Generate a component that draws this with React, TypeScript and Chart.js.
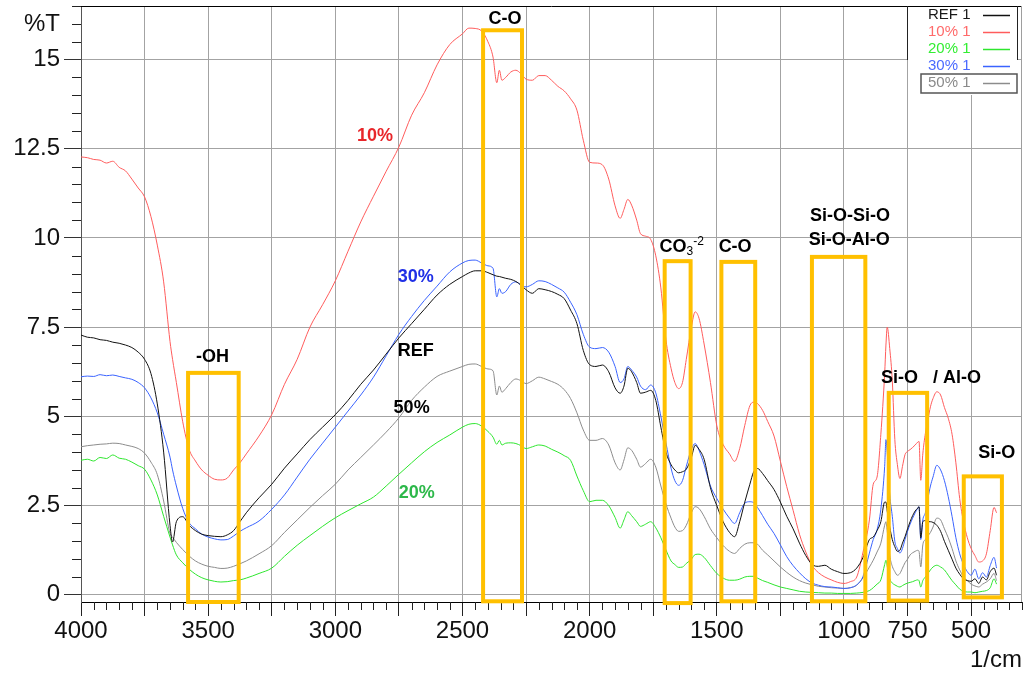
import React, { useEffect, useRef } from "react";
import { Chart, registerables } from "chart.js";

Chart.register(...registerables);

// ---------- data ----------
const WAVENUMBERS = [
  4000, 3975, 3950, 3925, 3900, 3875, 3850, 3825, 3800, 3775, 3750, 3725, 3700, 3675, 3650, 3640, 3625, 3600, 3575, 3550, 3525, 3500, 3475, 3450, 3425, 3400, 3375, 3350, 3300,
  3250, 3200, 3150, 3100, 3050, 3000, 2950, 2900, 2850, 2800, 2750, 2700, 2650, 2600, 2550, 2500, 2475, 2450, 2425, 2400,
  2380, 2365, 2355, 2345, 2330, 2310, 2290, 2270, 2250, 2225, 2200, 2175, 2150, 2125, 2100, 2075, 2050, 2025, 2000,
  1975, 1950, 1925, 1900, 1880, 1865, 1850, 1835, 1815, 1800, 1780, 1760, 1740, 1720, 1700,
  1680, 1665, 1650, 1635, 1620, 1600, 1585, 1570, 1550, 1525, 1500, 1475, 1450, 1430, 1410, 1390, 1370, 1355, 1340, 1320, 1300,
  1275, 1250, 1225, 1200, 1175, 1150, 1125, 1100, 1075, 1050, 1025, 1000, 975, 950, 925, 900,
  885, 870, 855, 840, 835, 830, 820, 810, 800, 790, 780, 770, 760, 750, 740, 730, 720, 710, 705, 698,
  690, 680, 670, 660, 650, 635, 620, 605, 590, 575, 560, 545, 530, 515, 500, 485, 470, 455, 440, 425, 410, 400,
];

const REF_1 = [
  7.28, 7.22, 7.2, 7.15, 7.13, 7.08, 7.05, 7.0, 6.93, 6.8, 6.6, 6.2, 5.35, 4.0, 1.95, 1.48, 2.05, 2.19, 1.95, 1.8, 1.7, 1.66, 1.64, 1.63, 1.68, 1.8, 2.05, 2.3, 2.72,
  3.1, 3.55, 3.95, 4.35, 4.7, 5.05, 5.45, 5.9, 6.3, 6.75, 7.2, 7.6, 8.0, 8.4, 8.7, 8.92, 9.02, 9.08, 9.08, 9.03,
  8.97, 8.93, 8.92, 8.9, 8.87, 8.84, 8.78, 8.68, 8.55, 8.45, 8.58, 8.55, 8.5, 8.42, 8.3, 7.98, 7.6, 6.85, 6.45,
  6.4, 6.44, 6.25, 5.8, 5.65, 5.85, 6.35, 6.25, 5.95, 5.65, 5.68, 5.73, 5.45, 4.7, 4.0,
  3.65, 3.5, 3.42, 3.45, 3.52, 3.85, 4.19, 4.08, 3.8, 3.0, 2.5, 2.05, 1.75, 1.63, 2.05, 2.6, 3.1, 3.45, 3.54, 3.4, 3.2,
  2.95, 2.6, 2.2, 1.85, 1.45, 1.1, 0.85, 0.8, 0.83, 0.72, 0.65, 0.6, 0.62, 0.75, 1.05, 1.55,
  1.62, 1.8, 2.05, 2.6, 2.6, 2.35, 1.9, 1.55, 1.35, 1.22, 1.25, 1.45, 1.63, 1.85, 2.05, 2.22, 2.35, 2.43, 2.47, 1.6,
  2.05, 2.08, 2.05, 2.05, 2.03, 1.95, 1.78, 1.5, 1.25, 1.0, 0.75, 0.58, 0.45, 0.4, 0.38, 0.45, 0.32, 0.5, 0.42, 0.65, 0.75, 0.55,
];

const P10_1 = [
  12.27, 12.25, 12.2, 12.18, 12.1, 12.15, 11.98, 11.88, 11.65, 11.4, 11.15, 10.6, 9.8, 8.77, 7.1, 6.6, 5.95, 4.85, 4.08, 3.75, 3.5, 3.35, 3.24, 3.22, 3.27, 3.5, 3.7, 3.95, 4.45,
  5.05, 5.9, 6.6, 7.5, 8.13, 8.8, 9.63, 10.45, 11.17, 11.87, 12.55, 13.44, 14.07, 14.85, 15.42, 15.72, 15.88, 15.87, 15.8, 15.5,
  15.07, 14.35, 14.7, 14.42, 14.5, 14.65, 14.7, 14.6, 14.45, 14.42, 14.55, 14.55, 14.42, 14.25, 14.12, 13.9, 13.58, 12.74, 12.12,
  12.1, 12.05, 11.65, 10.9, 10.55, 10.8, 11.08, 10.92, 10.5, 10.12, 10.05, 9.96, 9.5, 8.6, 7.15,
  6.35, 5.95, 5.78, 5.95, 6.6, 7.5, 7.93, 7.75, 7.03, 5.95, 4.74, 4.21, 3.95, 3.74, 4.1, 4.75, 5.3, 5.4, 5.36, 5.17, 4.86,
  4.45, 3.74, 3.03, 2.37, 1.7, 1.2, 0.82, 0.62, 0.5, 0.42, 0.35, 0.32, 0.37, 0.5, 1.2, 2.1,
  3.1, 3.3, 4.5, 6.2, 7.0, 7.5, 6.9, 6.0, 4.35, 3.65, 3.26, 3.6, 3.93, 4.02, 4.07, 4.13, 4.2, 4.28, 4.3, 3.21,
  3.95, 4.52, 4.9, 5.27, 5.5, 5.69, 5.6, 5.25, 4.95, 4.5, 3.7, 2.7, 2.05, 1.6, 1.3, 1.1, 0.92, 0.95, 1.15, 1.8, 2.45, 2.3,
];

const P20_1 = [
  3.77, 3.8, 3.75, 3.85, 3.82, 3.92, 3.83, 3.8, 3.72, 3.62, 3.52, 3.22, 2.8, 2.2, 1.62, 1.4, 1.12, 0.9, 0.72, 0.58, 0.48, 0.42, 0.38, 0.36, 0.37, 0.4, 0.42, 0.47, 0.6,
  0.75, 1.08, 1.39, 1.66, 1.92, 2.16, 2.36, 2.55, 2.74, 3.05, 3.38, 3.7, 4.01, 4.27, 4.48, 4.7, 4.78, 4.8, 4.73, 4.58,
  4.42, 4.22, 4.33, 4.2, 4.25, 4.26, 4.24, 4.18, 4.1, 4.15, 4.2, 4.17, 4.08, 4.0, 3.9, 3.77, 3.33, 2.92, 2.61,
  2.65, 2.65, 2.5, 2.17, 1.87, 2.1, 2.33, 2.22, 2.05, 1.92, 1.98, 2.05, 1.88, 1.6, 1.26,
  0.95, 0.85, 0.77, 0.78, 0.88, 1.0, 1.13, 1.14, 1.05, 0.82, 0.6, 0.47, 0.41, 0.41, 0.44, 0.5, 0.52, 0.52, 0.47, 0.4, 0.35,
  0.28, 0.22, 0.18, 0.14, 0.1, 0.08, 0.07, 0.06, 0.05, 0.05, 0.04, 0.04, 0.04, 0.05, 0.07, 0.12,
  0.2, 0.3, 0.42, 0.85, 0.97, 0.8, 0.45, 0.33, 0.28, 0.24, 0.22, 0.26, 0.3, 0.33, 0.35, 0.37, 0.4, 0.42, 0.4, 0.22,
  0.4, 0.5, 0.6, 0.7, 0.78, 0.83, 0.78, 0.7, 0.55, 0.4, 0.28, 0.16, 0.1, 0.08, 0.08, 0.06, 0.08, 0.1, 0.12, 0.2, 0.45, 0.3,
];

const P30_1 = [
  6.11, 6.13, 6.12, 6.17, 6.14, 6.16, 6.12, 6.08, 6.04, 5.95, 5.8, 5.52, 5.1, 4.5, 3.86, 3.5, 3.05, 2.42, 2.02, 1.85, 1.7, 1.62, 1.57, 1.54, 1.55, 1.65, 1.78, 1.88, 2.07,
  2.4, 2.8, 3.3, 3.8, 4.25, 4.7, 5.15, 5.6, 6.1, 6.7, 7.3, 7.8, 8.25, 8.65, 9.05, 9.3, 9.37, 9.38, 9.3, 9.22,
  9.15, 8.35, 8.58, 8.45, 8.5, 8.7, 8.77, 8.68, 8.63, 8.7, 8.8, 8.78, 8.7, 8.6, 8.48, 8.2, 7.85, 7.3, 6.94,
  6.9, 6.93, 6.8, 6.4, 5.95, 6.05, 6.4, 6.3, 6.1, 5.85, 5.75, 5.88, 5.66, 5.0, 4.26,
  3.55, 3.2, 3.07, 3.2, 3.6, 4.08, 4.24, 4.05, 3.65, 3.05, 2.7, 2.4, 2.15, 2.0, 2.3, 2.57, 2.61, 2.58, 2.45, 2.22, 1.98,
  1.72, 1.4, 1.07, 0.82, 0.62, 0.45, 0.33, 0.27, 0.23, 0.22, 0.2, 0.18, 0.2, 0.28, 0.52, 1.17,
  1.55, 1.82, 2.4, 3.6, 4.35, 4.0, 2.8, 2.2, 1.5, 1.3, 1.17, 1.3, 1.55, 1.78, 1.98, 2.15, 2.3, 2.43, 2.47, 1.55,
  2.1, 2.3, 2.7, 3.05, 3.3, 3.63, 3.5, 3.2, 2.75, 2.2, 1.6, 1.15, 0.85, 0.65, 0.55, 0.72, 0.45, 0.62, 0.5, 0.82, 1.05, 0.75,
];

const P50_1 = [
  4.15, 4.18, 4.2, 4.22, 4.23, 4.25, 4.24, 4.2, 4.16, 4.1, 3.97, 3.72, 3.37, 2.63, 1.72, 1.62, 1.47, 1.27, 1.09, 0.95, 0.86, 0.8, 0.77, 0.74, 0.75, 0.8, 0.87, 0.95, 1.15,
  1.38, 1.75, 2.1, 2.45, 2.78, 3.1, 3.5, 3.85, 4.2, 4.56, 4.96, 5.45, 5.82, 6.12, 6.27, 6.4, 6.46, 6.47, 6.4, 6.33,
  6.28, 5.6, 5.85, 5.68, 5.78, 5.95, 6.05, 6.0, 5.92, 6.0, 6.1, 6.05, 5.98, 5.9, 5.75, 5.5, 5.1, 4.62, 4.33,
  4.33, 4.38, 4.2, 3.7, 3.5, 3.78, 4.12, 4.05, 3.8, 3.58, 3.68, 3.8, 3.58, 3.05, 2.55,
  2.15, 1.9, 1.78, 1.8, 1.95, 2.3, 2.47, 2.42, 2.2, 1.85, 1.6, 1.38, 1.22, 1.16, 1.3, 1.42, 1.46, 1.46, 1.42, 1.25, 1.12,
  0.95, 0.78, 0.63, 0.5, 0.4, 0.33, 0.28, 0.24, 0.22, 0.2, 0.19, 0.18, 0.2, 0.27, 0.48, 0.78,
  0.97, 1.2, 1.45, 1.95, 2.05, 1.8, 1.1, 0.8, 0.65, 0.55, 0.6, 0.75, 0.9, 1.0, 1.12, 1.18, 1.22, 1.25, 1.22, 0.78,
  1.4, 1.55, 1.65, 1.75, 1.9, 2.15, 2.1, 1.85, 1.6, 1.3, 0.95, 0.7, 0.5, 0.4, 0.3, 0.25, 0.22, 0.3, 0.36, 0.45, 0.6, 0.4,
];

const X_MIN = 300;
const X_MAX = 4000;
const Y_MIN = -0.2;
const Y_MAX = 16.5;
const X_GRID_TICKS = [4000, 3750, 3500, 3250, 3000, 2750, 2500, 2250, 2000, 1750, 1500, 1250, 1000, 750, 500];
const X_TICK_LABELS = [4000, 3500, 3000, 2500, 2000, 1500, 1000, 750, 500];
const Y_TICKS = [0, 2.5, 5, 7.5, 10, 12.5, 15];

// band annotations (wavenumber range, %T range)
const BAND_NAMES = ["-OH", "C-O", "CO3", "C-O", "Si-O-Si", "Si-O/Al-O", "Si-O"];
const BAND_FROM = [3579, 2419, 1705, 1482, 1126, 824, 529];
const BAND_TO = [3380, 2266, 1603, 1349, 916, 673, 379];
const BAND_TOP = [6.22, 15.82, 9.35, 9.33, 9.47, 5.66, 3.32];
const BAND_BOTTOM = [-0.2, -0.18, -0.23, -0.18, -0.18, -0.16, -0.07];

// text annotations
const NOTE_TEXT = ["-OH", "C-O", "10%", "30%", "REF", "50%", "20%", "C-O", "Si-O-Si-O", "Si-O-Al-O", "Si-O   / Al-O", "Si-O"];
const NOTE_X = [3483, 2333, 2844, 2684, 2684, 2700, 2680, 1428, 976, 979, 658, 399];
const NOTE_Y = [6.66, 16.13, 12.86, 8.9, 6.84, 5.23, 2.85, 9.76, 10.62, 9.94, 6.07, 3.98];
const NOTE_COLOR = ["#000", "#000", "#e8262a", "#1f2fe6", "#000", "#000", "#2db84a", "#000", "#000", "#000", "#000", "#000"];
const CO3_X = 1638;
const CO3_Y = 9.76;

const SERIES_LABELS = ["REF 1", "10% 1", "20% 1", "30% 1", "50% 1"];
const SERIES_VALUES = [REF_1, P10_1, P20_1, P30_1, P50_1];
const SERIES_COLORS = ["#111111", "#ff5c5c", "#2ee62e", "#3a63ff", "#8c8c8c"];
const LEGEND_TEXT_COLORS = ["#1a1a1a", "#ff6a6a", "#33ee33", "#4a6aff", "#8a8a8a"];

const FONT = '"Liberation Sans", Arial, Helvetica, sans-serif';

const overlayPlugin = {
  id: "overlay",
  afterDraw(chart: any) {
    const { ctx, chartArea: a, scales } = chart;
    const xs = scales.x;
    const ys = scales.y;
    ctx.save();

    // frame (top and right)
    ctx.lineWidth = 1;
    ctx.strokeStyle = "#000";
    ctx.beginPath();
    ctx.moveTo(a.left, a.top + 0.5);
    ctx.lineTo(a.right, a.top + 0.5);
    ctx.stroke();
    ctx.strokeStyle = "#9e9e9e";
    ctx.beginPath();
    ctx.moveTo(a.right - 0.5, a.top);
    ctx.lineTo(a.right - 0.5, a.bottom);
    ctx.stroke();

    // minor ticks
    ctx.strokeStyle = "#222";
    ctx.beginPath();
    for (let v = X_MIN; v <= X_MAX; v += 50) {
      if (v % 250 === 0) continue;
      const px = Math.round(xs.getPixelForValue(v)) + 0.5;
      ctx.moveTo(px, a.bottom);
      ctx.lineTo(px, a.bottom + 8);
    }
    for (let i = 1; i * 0.5 <= Y_MAX; i++) {
      const v = i * 0.5;
      if (v % 2.5 === 0) continue;
      const py = Math.round(ys.getPixelForValue(v)) + 0.5;
      ctx.moveTo(a.left - 9, py);
      ctx.lineTo(a.left, py);
    }
    ctx.stroke();

    // bands
    ctx.strokeStyle = "#ffc000";
    ctx.lineWidth = 4;
    for (let i = 0; i < BAND_NAMES.length; i++) {
      const x1 = xs.getPixelForValue(BAND_FROM[i]);
      const x2 = xs.getPixelForValue(BAND_TO[i]);
      const y1 = ys.getPixelForValue(BAND_TOP[i]);
      const y2 = ys.getPixelForValue(BAND_BOTTOM[i]);
      ctx.strokeRect(Math.min(x1, x2), y1, Math.abs(x2 - x1), y2 - y1);
    }

    // notes
    ctx.font = `bold 18px ${FONT}`;
    ctx.textAlign = "center";
    ctx.textBaseline = "middle";
    for (let i = 0; i < NOTE_TEXT.length; i++) {
      ctx.fillStyle = NOTE_COLOR[i];
      ctx.fillText(NOTE_TEXT[i], xs.getPixelForValue(NOTE_X[i]), ys.getPixelForValue(NOTE_Y[i]));
    }
    // CO3^-2 with sub/superscript
    {
      const cx = xs.getPixelForValue(CO3_X);
      const cy = ys.getPixelForValue(CO3_Y);
      ctx.font = `bold 18px ${FONT}`;
      const w1 = ctx.measureText("CO").width;
      ctx.font = `12px ${FONT}`;
      const w2 = ctx.measureText("3").width;
      const w3 = ctx.measureText("-2").width;
      let x0 = cx - (w1 + w2 + w3) / 2;
      ctx.textAlign = "left";
      ctx.fillStyle = "#000";
      ctx.font = `bold 18px ${FONT}`;
      ctx.fillText("CO", x0, cy);
      x0 += w1;
      ctx.font = `12px ${FONT}`;
      ctx.fillText("3", x0, cy + 5);
      x0 += w2;
      ctx.fillText("-2", x0, cy - 5);
    }

    // legend
    const lLeft = a.right - 115;
    const lRight = a.right - 5;
    const lTop = a.top;
    ctx.fillStyle = "#fff";
    ctx.fillRect(lLeft + 1, lTop + 1, lRight - lLeft - 1, 88);
    ctx.lineWidth = 1;
    ctx.strokeStyle = "#222";
    ctx.beginPath();
    ctx.moveTo(lLeft + 0.5, lTop);
    ctx.lineTo(lLeft + 0.5, lTop + 54);
    ctx.moveTo(lRight + 0.5, lTop);
    ctx.lineTo(lRight + 0.5, lTop + 54);
    ctx.stroke();
    ctx.font = `15px ${FONT}`;
    ctx.textAlign = "left";
    ctx.textBaseline = "middle";
    for (let i = 0; i < SERIES_LABELS.length; i++) {
      const yy = lTop + 9 + 17 * i;
      ctx.fillStyle = LEGEND_TEXT_COLORS[i];
      ctx.fillText(SERIES_LABELS[i], lLeft + 21, yy);
      ctx.strokeStyle = SERIES_COLORS[i];
      ctx.lineWidth = 1.5;
      ctx.beginPath();
      ctx.moveTo(lLeft + 76, Math.round(yy) + 0.5);
      ctx.lineTo(lLeft + 103, Math.round(yy) + 0.5);
      ctx.stroke();
    }
    ctx.strokeStyle = "#555";
    ctx.lineWidth = 1.5;
    ctx.strokeRect(lLeft + 14, lTop + 68, lRight - lLeft - 14, 19);

    // axis titles
    ctx.fillStyle = "#111";
    ctx.font = `24px ${FONT}`;
    ctx.textAlign = "center";
    ctx.fillText("%T", 42, 24);
    ctx.textAlign = "right";
    ctx.fillText("1/cm", a.right, 660);

    ctx.restore();
  },
};

export default function App() {
  const canvasRef = useRef<HTMLCanvasElement | null>(null);

  useEffect(() => {
    if (!canvasRef.current) return;
    const datasets = SERIES_LABELS.map((label, i) => ({
      label,
      data: WAVENUMBERS.map((w, j) => ({ x: w, y: SERIES_VALUES[i][j] })),
      borderColor: SERIES_COLORS[i],
      backgroundColor: SERIES_COLORS[i],
      borderWidth: 1,
      pointRadius: 0,
      fill: false,
      cubicInterpolationMode: "monotone" as const,
    }));

    const chart = new Chart(canvasRef.current, {
      type: "line",
      data: { datasets },
      plugins: [overlayPlugin],
      options: {
        animation: false,
        responsive: true,
        maintainAspectRatio: false,
        layout: { padding: { left: 0, top: 6, right: 3, bottom: 0 } },
        plugins: { legend: { display: false }, tooltip: { enabled: false } },
        scales: {
          x: {
            type: "linear",
            reverse: true,
            min: X_MIN,
            max: X_MAX,
            afterBuildTicks: (s: any) => {
              s.ticks = X_GRID_TICKS.map((v) => ({ value: v }));
            },
            afterFit: (s: any) => {
              s.height = 71;
              s.paddingLeft = 0;
              s.paddingRight = 0;
            },
            ticks: {
              autoSkip: false,
              maxRotation: 0,
              minRotation: 0,
              padding: 1,
              color: "#111",
              font: { family: FONT, size: 24 },
              callback: (v: any) => (X_TICK_LABELS.includes(Number(v)) ? String(v) : ""),
            },
            grid: { color: "#a3a3a3", tickColor: "#222", tickLength: 14, lineWidth: 1 },
            border: { color: "#000", width: 1 },
          },
          y: {
            type: "linear",
            min: Y_MIN,
            max: Y_MAX,
            afterBuildTicks: (s: any) => {
              s.ticks = Y_TICKS.map((v) => ({ value: v }));
            },
            afterFit: (s: any) => {
              s.width = 81;
              s.paddingTop = 0;
              s.paddingBottom = 0;
            },
            ticks: {
              padding: 4,
              color: "#111",
              font: { family: FONT, size: 24 },
              callback: (v: any) => String(v),
            },
            grid: { color: "#a3a3a3", tickColor: "#333", tickLength: 17, lineWidth: 1 },
            border: { color: "#555", width: 1 },
          },
        },
      },
    });
    return () => chart.destroy();
  }, []);

  return (
    <div style={{ position: "absolute", left: 0, top: 0, width: 1025, height: 673, background: "#fff" }}>
      <canvas ref={canvasRef} />
    </div>
  );
}
